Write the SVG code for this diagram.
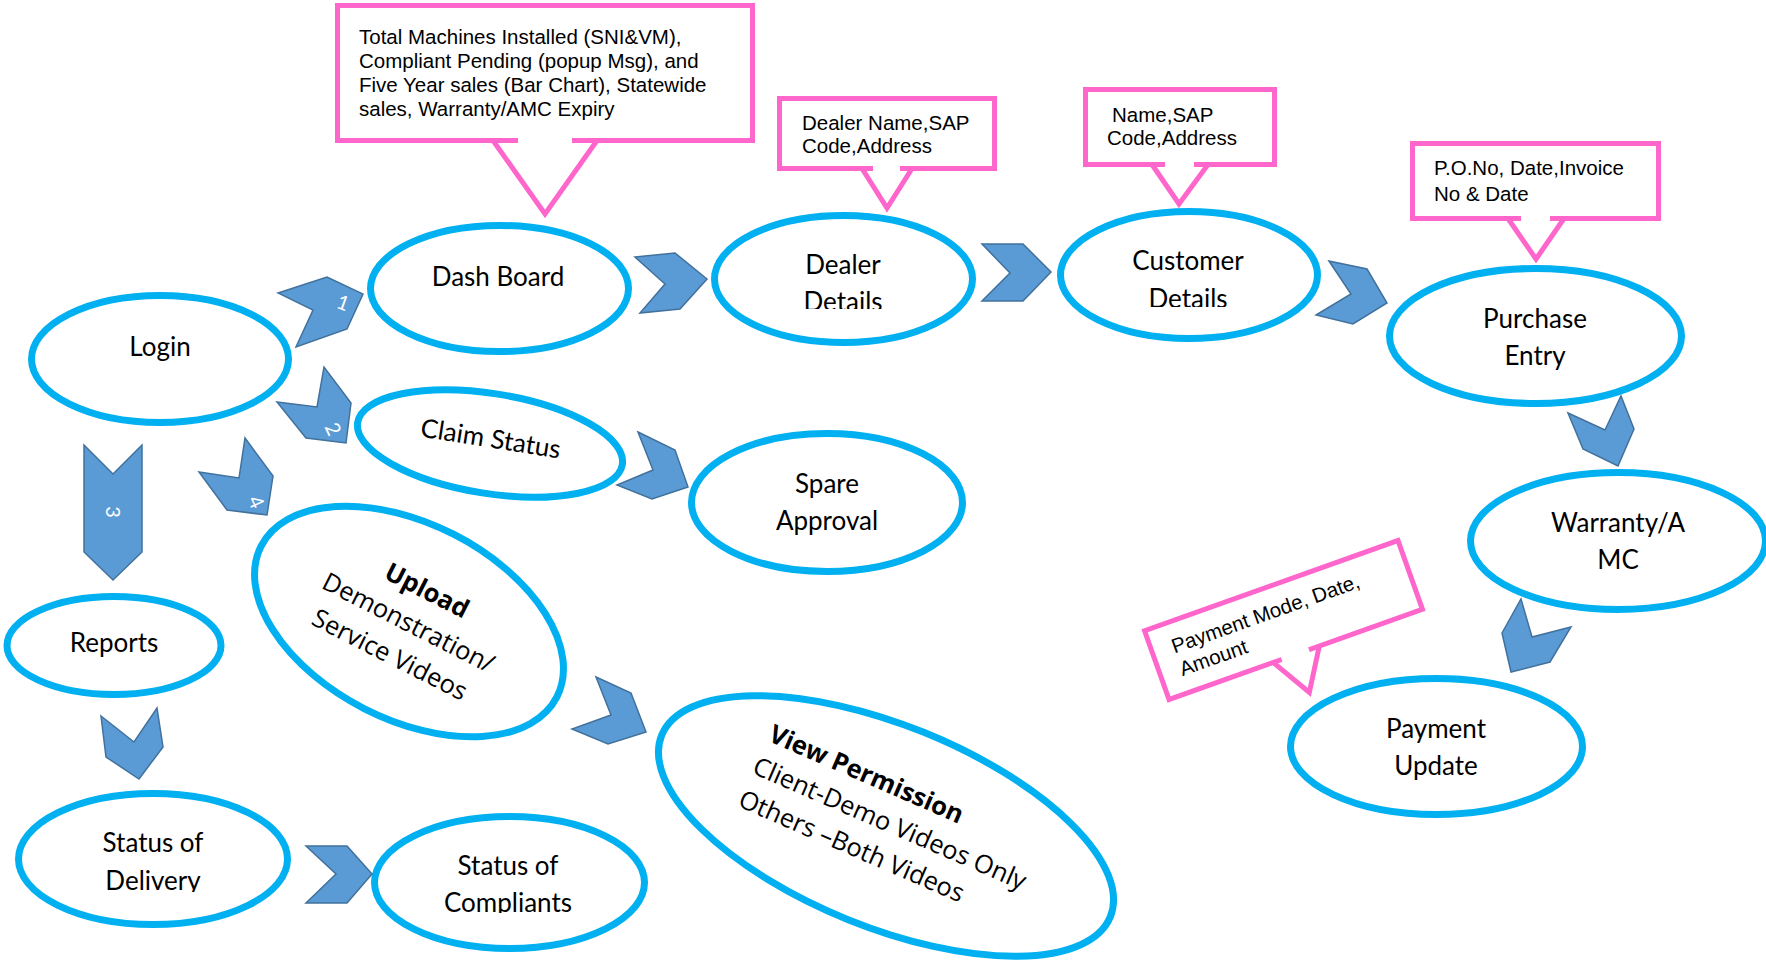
<svg xmlns="http://www.w3.org/2000/svg" width="1766" height="963" viewBox="0 0 1766 963">
  <style>
    .node ellipse { fill: #ffffff; stroke: #00B0F0; stroke-width: 7; }
    .lbl { font-family: Lato, "Open Sans", sans-serif; font-size: 26px; fill: #000000; text-anchor: middle; }
    .rot { font-family: "Open Sans", "Noto Sans", sans-serif; font-size: 25.5px; fill: #000000; }
    .bold { font-weight: 700; }
    .chev { fill: #5B9BD5; stroke: #41719C; stroke-width: 1.5; stroke-linejoin: miter; }
    .num { font-family: Lato, "Open Sans", sans-serif; font-size: 20px; fill: #ffffff; text-anchor: middle; }
    .box { fill: #ffffff; stroke: #FF66CC; stroke-width: 5; }
    .gap { stroke: #ffffff; stroke-width: 7; fill: none; }
    .tail { fill: none; stroke: #FF66CC; stroke-width: 5; stroke-linejoin: miter; }
    .ctext { font-family: "Liberation Sans", Arial, sans-serif; font-size: 20.5px; fill: #000000; }
  </style>
  <defs>
    <clipPath id="clipDealer"><rect x="700" y="200" width="290" height="109"/></clipPath>
    <clipPath id="clipCustomer"><rect x="1050" y="200" width="280" height="107"/></clipPath>
    <clipPath id="clipDelivery"><rect x="10" y="780" width="290" height="112"/></clipPath>
    <clipPath id="clipCompliants"><rect x="360" y="800" width="300" height="113"/></clipPath>
  </defs>

  <!-- callout boxes -->
  <g id="note-dashboard">
    <rect class="box" x="337.5" y="5.5" width="415" height="135"/>
    <line class="gap" x1="518" y1="140.5" x2="572" y2="140.5"/>
    <polyline class="tail" points="493,140.5 545,214 597,140.5"/>
    <text class="ctext" x="359" y="44">Total Machines Installed (SNI&amp;VM),</text>
    <text class="ctext" x="359" y="68">Compliant Pending (popup Msg), and</text>
    <text class="ctext" x="359" y="92">Five Year sales (Bar Chart), Statewide</text>
    <text class="ctext" x="359" y="116">sales, Warranty/AMC Expiry</text>
  </g>
  <g id="note-dealer">
    <rect class="box" x="779.5" y="98.5" width="215" height="70"/>
    <line class="gap" x1="873" y1="168.5" x2="900" y2="168.5"/>
    <polyline class="tail" points="862,168.5 887,208 912,168.5"/>
    <text class="ctext" x="802" y="130">Dealer Name,SAP</text>
    <text class="ctext" x="802" y="153">Code,Address</text>
  </g>
  <g id="note-customer">
    <rect class="box" x="1085.5" y="89.5" width="189" height="75"/>
    <line class="gap" x1="1165" y1="164.5" x2="1194" y2="164.5"/>
    <polyline class="tail" points="1152,164.5 1179,204 1208,164.5"/>
    <text class="ctext" x="1112" y="122">Name,SAP</text>
    <text class="ctext" x="1107" y="145">Code,Address</text>
  </g>
  <g id="note-purchase">
    <rect class="box" x="1412.5" y="143.5" width="246" height="75"/>
    <line class="gap" x1="1521" y1="218.5" x2="1550" y2="218.5"/>
    <polyline class="tail" points="1508,218.5 1536,259 1564,218.5"/>
    <text class="ctext" x="1434" y="175">P.O.No, Date,Invoice</text>
    <text class="ctext" x="1434" y="201">No &amp; Date</text>
  </g>
  <g id="note-payment" transform="translate(1283.5,620) rotate(-19.6)">
    <rect class="box" x="-134.5" y="-36.5" width="269" height="73"/>
    <line class="gap" x1="-15" y1="36.5" x2="14" y2="36.5"/>
    <polyline class="tail" points="-24,36.5 0,77 25,36.5"/>
    <text class="ctext" x="-114" y="-5">Payment Mode, Date,</text>
    <text class="ctext" x="-114" y="19">Amount</text>
  </g>

  <!-- process nodes -->
  <g id="login" class="node">
    <ellipse cx="160" cy="359" rx="128.5" ry="63.5"/>
    <text class="lbl" x="160" y="356">Login</text>
  </g>
  <g id="dashboard" class="node">
    <ellipse cx="499.5" cy="288.5" rx="129" ry="63"/>
    <text class="lbl" x="498" y="286">Dash Board</text>
  </g>
  <g id="dealer-details" class="node">
    <ellipse cx="843.5" cy="279" rx="129" ry="63.5"/>
    <text class="lbl" x="843" y="274">Dealer</text>
    <text class="lbl" x="843" y="311" clip-path="url(#clipDealer)">Details</text>
  </g>
  <g id="customer-details" class="node">
    <ellipse cx="1189" cy="275" rx="128.5" ry="63.5"/>
    <text class="lbl" x="1188" y="270">Customer</text>
    <text class="lbl" x="1188" y="308" clip-path="url(#clipCustomer)">Details</text>
  </g>
  <g id="purchase-entry" class="node">
    <ellipse cx="1535.5" cy="336" rx="146" ry="67.5"/>
    <text class="lbl" x="1535" y="328">Purchase</text>
    <text class="lbl" x="1535" y="365">Entry</text>
  </g>
  <g id="warranty-amc" class="node">
    <ellipse cx="1618" cy="541" rx="147.5" ry="68.5"/>
    <text class="lbl" x="1618" y="532">Warranty/A</text>
    <text class="lbl" x="1618" y="569">MC</text>
  </g>
  <g id="payment-update" class="node">
    <ellipse cx="1436.5" cy="746.5" rx="146" ry="68"/>
    <text class="lbl" x="1436" y="738">Payment</text>
    <text class="lbl" x="1436" y="775">Update</text>
  </g>
  <g id="claim-status" class="node" transform="translate(490,443.5) rotate(9)">
    <ellipse cx="0" cy="0" rx="134" ry="50"/>
    <text class="lbl" x="0" y="4">Claim Status</text>
  </g>
  <g id="spare-approval" class="node">
    <ellipse cx="827" cy="502.5" rx="135.5" ry="69"/>
    <text class="lbl" x="827" y="493">Spare</text>
    <text class="lbl" x="827" y="530">Approval</text>
  </g>
  <g id="upload-videos" class="node" transform="translate(409,621.5) rotate(27)">
    <ellipse cx="0" cy="0" rx="166" ry="98"/>
    <text class="rot bold" x="2" y="-27" text-anchor="middle">Upload</text>
    <text class="rot" x="0" y="10" text-anchor="middle">Demonstration/</text>
    <text class="rot" x="-2" y="47" text-anchor="middle">Service Videos</text>
  </g>
  <g id="view-permission" class="node" transform="translate(886,826) rotate(22)">
    <ellipse cx="0" cy="0" rx="242" ry="101"/>
    <g transform="rotate(1.5)">
      <text class="rot bold" x="-143" y="-31" font-size="24px">View Permission</text>
      <text class="rot" x="-145" y="5" font-size="25px">Client-Demo Videos Only</text>
      <text class="rot" x="-145" y="41" font-size="25px">Others –Both Videos</text>
    </g>
  </g>
  <g id="reports" class="node">
    <ellipse cx="114" cy="645.5" rx="107" ry="49"/>
    <text class="lbl" x="114" y="652">Reports</text>
  </g>
  <g id="status-delivery" class="node">
    <ellipse cx="153" cy="859" rx="134.5" ry="65.5"/>
    <text class="lbl" x="153" y="852">Status of</text>
    <text class="lbl" x="153" y="890" clip-path="url(#clipDelivery)">Delivery</text>
  </g>
  <g id="status-compliants" class="node">
    <ellipse cx="509.5" cy="882.5" rx="135" ry="66"/>
    <text class="lbl" x="508" y="875">Status of</text>
    <text class="lbl" x="508" y="912" clip-path="url(#clipCompliants)">Compliants</text>
  </g>

  <!-- chevron connectors -->
  <g id="connectors">
    <polygon class="chev" points="278,293 327,277 363,294 347,329 296,347 313,310"/>
    <text class="num" transform="translate(343,303) rotate(20)" y="7">1</text>
    <polygon class="chev" points="277,402 317,407 324,367 351,403 346,443 306,438"/>
    <text class="num" transform="translate(333,429) rotate(65)" y="7">2</text>
    <polygon class="chev" points="84,445 113,474 142,445 142,552 113,580 84,552"/>
    <text class="num" transform="translate(113,512) rotate(90)" y="7">3</text>
    <polygon class="chev" points="199,472 239,478 245,438 273,476 267,515 227,510"/>
    <text class="num" transform="translate(256,502) rotate(65)" y="7">4</text>
    <polygon class="chev" points="635,257 675,253 707,279 680,309 640,313 665,284"/>
    <polygon class="chev" points="982,244 1023,244 1051,272 1023,301 982,301 1010,273"/>
    <polygon class="chev" points="1329,261 1367,269 1387,303 1353,324 1316,315 1351,294"/>
    <polygon class="chev" points="1568,413 1605,430 1621,396 1634,429 1618,466 1583,449"/>
    <polygon class="chev" points="1521,599 1532,637 1571,627 1550,662 1511,672 1502,633"/>
    <polygon class="chev" points="638,432 675,450 688,487 652,499 617,485 653,470"/>
    <polygon class="chev" points="596,677 631,693 646,732 608,744 572,729 611,715"/>
    <polygon class="chev" points="101,716 134,742 157,708 163,747 139,779 106,757"/>
    <polygon class="chev" points="306,846 347,846 372,874 347,903 306,903 336,874"/>
  </g>
</svg>
